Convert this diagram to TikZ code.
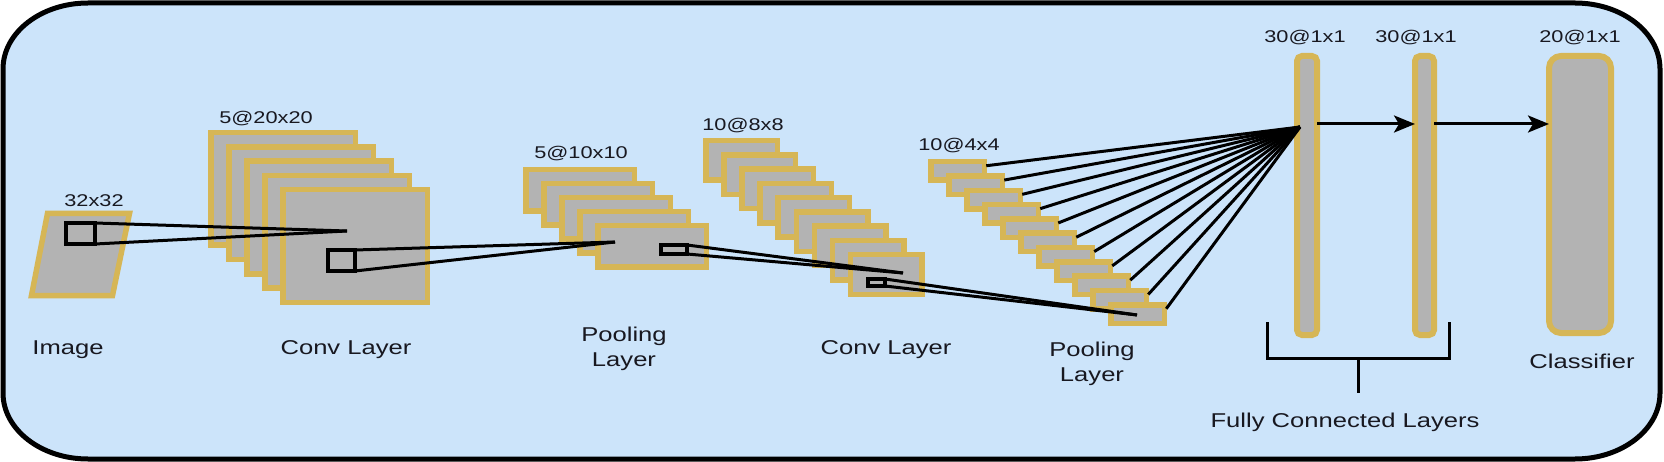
\documentclass[tikz,border=0pt]{standalone}
\usepackage{graphicx}
\usepackage{fontspec}
\setmainfont{Liberation Sans}
\usetikzlibrary{arrows.meta}
\definecolor{bg}{RGB}{204,228,250}
\definecolor{gold}{RGB}{214,182,86}
\definecolor{lgray}{RGB}{179,179,179}
\definecolor{txt}{RGB}{24,24,32}
\newcommand{\hsx}[1]{\scalebox{1.28}[1]{#1}}
\tikzset{
  layer/.style={draw=gold, fill=lgray, line width=5.5pt, inner sep=0pt, outer sep=0pt, anchor=north west},
  win/.style={draw=black, fill=lgray, line width=4.2pt, inner sep=0pt, outer sep=0pt, anchor=north west},
  fcbar/.style={draw=gold, fill=lgray, line width=6pt, inner sep=0pt, outer sep=0pt, anchor=north west, rounded corners=5pt},
  link/.style={draw=black, line width=3pt},
  arr/.style={link, -{Stealth[length=21pt,width=17pt,inset=5pt]}},
  lbl/.style={font=\fontsize{20}{25}\selectfont, text=txt, inner sep=0pt, align=center},
  dim/.style={font=\fontsize{17}{20}\selectfont, text=txt, inner sep=0pt, anchor=base},
}
\begin{document}
\begin{tikzpicture}[x=1pt,y=-1pt]
\useasboundingbox (0,0) rectangle (1664,462);
% frame
\draw[line width=5pt, fill=bg] (88,3) -- (1575,3)
  .. controls (1621.9,3) and (1660,32.5) .. (1660,69) -- (1660,393)
  .. controls (1660,429.5) and (1621.9,459) .. (1575,459) -- (88,459)
  .. controls (41.1,459) and (3,429.5) .. (3,393) -- (3,69)
  .. controls (3,32.5) and (41.1,3) .. (88,3) -- cycle;
% input image
\coordinate (im-a) at (47.5,213.5);
\coordinate (im-b) at (129.5,213.5);
\coordinate (im-c) at (112.5,295.5);
\coordinate (im-d) at (31.5,295.5);
\draw[draw=gold, fill=lgray, line width=5.5pt] (im-a) -- (im-b) -- (im-c) -- (im-d) -- cycle;
% conv layer 1
\foreach \i in {0,...,4}
  \node[layer, minimum width=144.5pt, minimum height=112.5pt] (c1-\i) at ({210.75+18*\i},{132.75+14.25*\i}) {};
% pooling layer 1
\foreach \i in {0,...,4}
  \node[layer, minimum width=108.5pt, minimum height=41.5pt] (p1-\i) at ({525.75+18*\i},{169.75+14*\i}) {};
% conv layer 2
\foreach \i in {0,...,8}
  \node[layer, minimum width=71.5pt, minimum height=39.5pt] (c2-\i) at ({705.75+18.1*\i},{140.75+14.25*\i}) {};
% pooling layer 2
\foreach \i in {0,...,10}
  \node[layer, minimum width=53.5pt, minimum height=18.5pt] (p2-\i) at ({930.75+18*\i},{161.75+14.3*\i}) {};
% fully connected + classifier
\node[fcbar, minimum width=20pt, minimum height=279pt] (fc1) at (1297,56) {};
\node[fcbar, minimum width=19pt, minimum height=279pt] (fc2) at (1415,56) {};
\node[fcbar, rounded corners=12pt, minimum width=62pt, minimum height=277pt] (cls) at (1549,56) {};
% windows
\node[win, minimum width=29pt, minimum height=21pt] (w1) at (66,223) {};
\node[win, minimum width=27pt, minimum height=21pt] (w2) at (328,250) {};
\node[win, minimum width=26pt, minimum height=9pt] (w3) at (661,245) {};
\node[win, minimum width=17pt, minimum height=7pt] (w4) at (868,279) {};
% convergence points
\coordinate (k1) at (347,231);
\coordinate (k2) at (615,242);
\coordinate (k3) at (903,273);
\coordinate (k4) at (1137,315);
\coordinate (k5) at (1300,127);
% receptive-field lines
\draw[link] (w1.north east) -- (k1);
\draw[link] (w1.south east) -- (k1);
\draw[link] (w2.north east) -- (k2);
\draw[link] (w2.south east) -- (k2);
\draw[link] (w3.north east) -- (k3);
\draw[link] (w3.south east) -- (k3);
\draw[link] (w4.north east) -- (k4);
\draw[link] (w4.south east) -- (k4);
\foreach \i in {0,...,10}
  \draw[link] ([xshift=2pt,yshift=-4pt]p2-\i.north east) -- (k5);
% arrows
\draw[arr] ([yshift=71.5pt]fc1.east) -- ([yshift=71.5pt]fc2.west);
\draw[arr] ([yshift=71.5pt]fc2.east) -- ([yshift=70.5pt]cls.west);
% bracket
\coordinate (br1) at (1267,322);
\coordinate (br2) at (1267,358);
\coordinate (br3) at (1449,358);
\coordinate (br4) at (1449,322);
\coordinate (st1) at (1358,358);
\coordinate (st2) at (1358,393);
\draw[link] (br1) -- (br2) -- (br3) -- (br4);
\draw[link] (st1) -- (st2);
% size labels
\node[dim] (t1) at (94,207) {\hsx{32x32}};
\node[dim] (t2) at (266,124) {\hsx{5@20x20}};
\node[dim] (t3) at (581,159) {\hsx{5@10x10}};
\node[dim] (t4) at (743,131) {\hsx{10@8x8}};
\node[dim] (t5) at (959,151) {\hsx{10@4x4}};
\node[dim] (t6) at (1305,43) {\hsx{30@1x1}};
\node[dim] (t7) at (1416,43) {\hsx{30@1x1}};
\node[dim] (t8) at (1580,43) {\hsx{20@1x1}};
% layer labels
\node[lbl, anchor=base] (l1) at (68,354) {\hsx{Image}};
\node[lbl, anchor=base] (l2) at (346,354) {\hsx{Conv Layer}};
\node[lbl] (l3) at (624,349.3) {\hsx{Pooling}\\\hsx{Layer}};
\node[lbl, anchor=base] (l4) at (886,354) {\hsx{Conv Layer}};
\node[lbl] (l5) at (1092,363.8) {\hsx{Pooling}\\\hsx{Layer}};
\node[lbl, anchor=base] (l6) at (1582,368) {\hsx{Classifier}};
\node[lbl, anchor=base] (l7) at (1345,427) {\hsx{Fully Connected Layers}};
\end{tikzpicture}
\end{document}
